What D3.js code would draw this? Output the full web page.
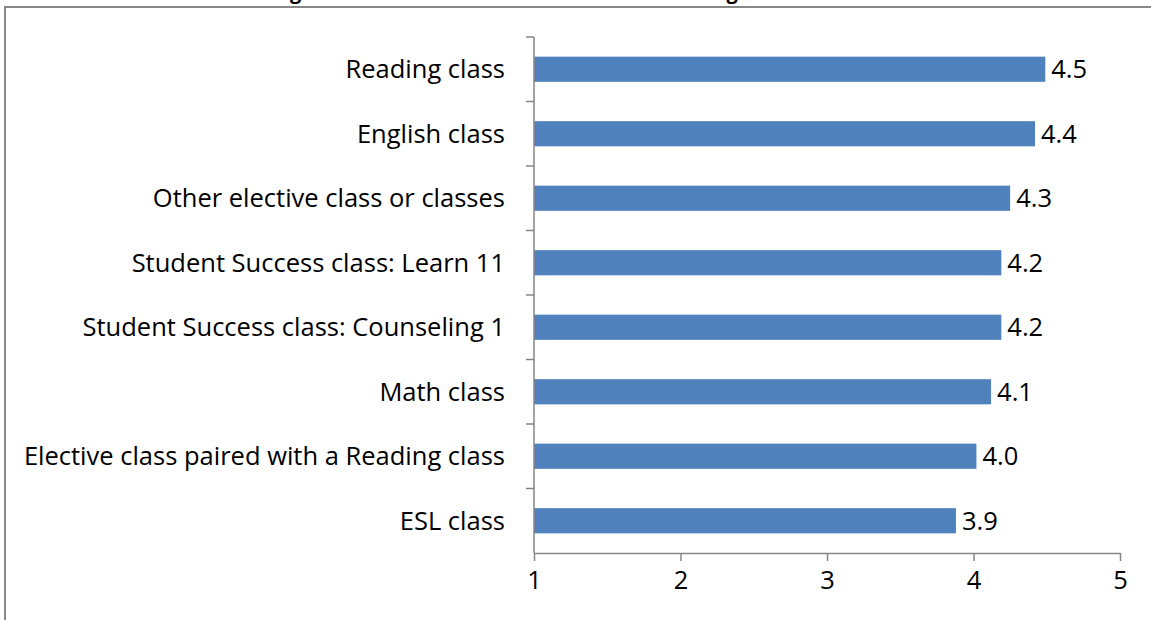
<!DOCTYPE html>
<html>
<head>
<meta charset="utf-8">
<style>
body { margin: 0; background: #fff; }
svg { display: block; }
.axis path, .axis line { stroke: #868686; stroke-width: 1.5px; }
.lbl { font-family: "Open Sans", sans-serif; font-size: 25.5px; fill: #000; }
</style>
<script src="https://cdn.jsdelivr.net/npm/d3@7"></script>
</head>
<body>
<script>
// data
var categories = ["Reading class", "English class", "Other elective class or classes",
  "Student Success class: Learn 11", "Student Success class: Counseling 1", "Math class",
  "Elective class paired with a Reading class", "ESL class"];
var meanRatings = [4.49, 4.42, 4.25, 4.19, 4.19, 4.12, 4.02, 3.88];
var xTicks = [1, 2, 3, 4, 5];

var width = 1151, height = 620;
var svg = d3.select("body").append("svg")
  .attr("width", width).attr("height", height);

// title mostly cut off above the frame
svg.append("text")
  .attr("x", 580).attr("y", -1)
  .attr("text-anchor", "middle")
  .style("font-family", "'Open Sans', sans-serif").style("font-weight", "bold").style("font-size", "20px")
  .text("Figure 9: Student Success Classes: Mean Ratings of Usefulness");

// outer frame
svg.append("rect")
  .attr("x", 5).attr("y", 7)
  .attr("width", width + 20).attr("height", height + 20)
  .attr("fill", "none").attr("stroke", "#888").attr("stroke-width", 2);

var plotL = 534, plotR = 1120, plotT = 37, plotB = 553;

var x = d3.scaleLinear().domain([1, 5]).range([plotL, plotR]);
var y = d3.scaleBand().domain(categories).range([plotT, plotB]).paddingInner(0.61).paddingOuter(0.305);
var yb = d3.scaleBand().domain(categories).range([plotT, plotB]);

// bars
svg.selectAll("rect.bar").data(categories).enter().append("rect")
  .attr("class", "bar")
  .attr("x", x(1))
  .attr("y", function(d) { return y(d); })
  .attr("width", function(d, i) { return x(meanRatings[i]) - x(1); })
  .attr("height", y.bandwidth())
  .attr("fill", "#4F81BD");

// value labels
svg.selectAll("text.val").data(categories).enter().append("text")
  .attr("class", "lbl val")
  .attr("x", function(d, i) { return x(meanRatings[i]) + 6; })
  .attr("y", function(d) { return y(d) + y.bandwidth() / 2 + 9; })
  .text(function(d, i) { return meanRatings[i].toFixed(1); });

// category labels
svg.selectAll("text.cat").data(categories).enter().append("text")
  .attr("class", "lbl cat")
  .attr("x", 505)
  .attr("text-anchor", "end")
  .attr("y", function(d) { return y(d) + y.bandwidth() / 2 + 9; })
  .text(function(d) { return d; });

// y axis: line with ticks at band edges
var yAxis = svg.append("g").attr("class", "axis");
yAxis.append("line").attr("x1", plotL).attr("x2", plotL).attr("y1", plotT).attr("y2", plotB);
var edges = categories.map(function(d) { return yb(d); });
yAxis.selectAll("line.t").data(edges).enter().append("line")
  .attr("class", "t")
  .attr("x1", plotL - 8).attr("x2", plotL)
  .attr("y1", function(d) { return d; }).attr("y2", function(d) { return d; });

// x axis
var xg = svg.append("g").attr("class", "axis")
  .attr("transform", "translate(0," + plotB + ")")
  .call(d3.axisBottom(x).tickValues(xTicks).tickSize(8).tickSizeOuter(0).tickFormat(d3.format("d")));
xg.selectAll("text").attr("class", "lbl").attr("dy", null).attr("y", 36);
</script>
</body>
</html>
